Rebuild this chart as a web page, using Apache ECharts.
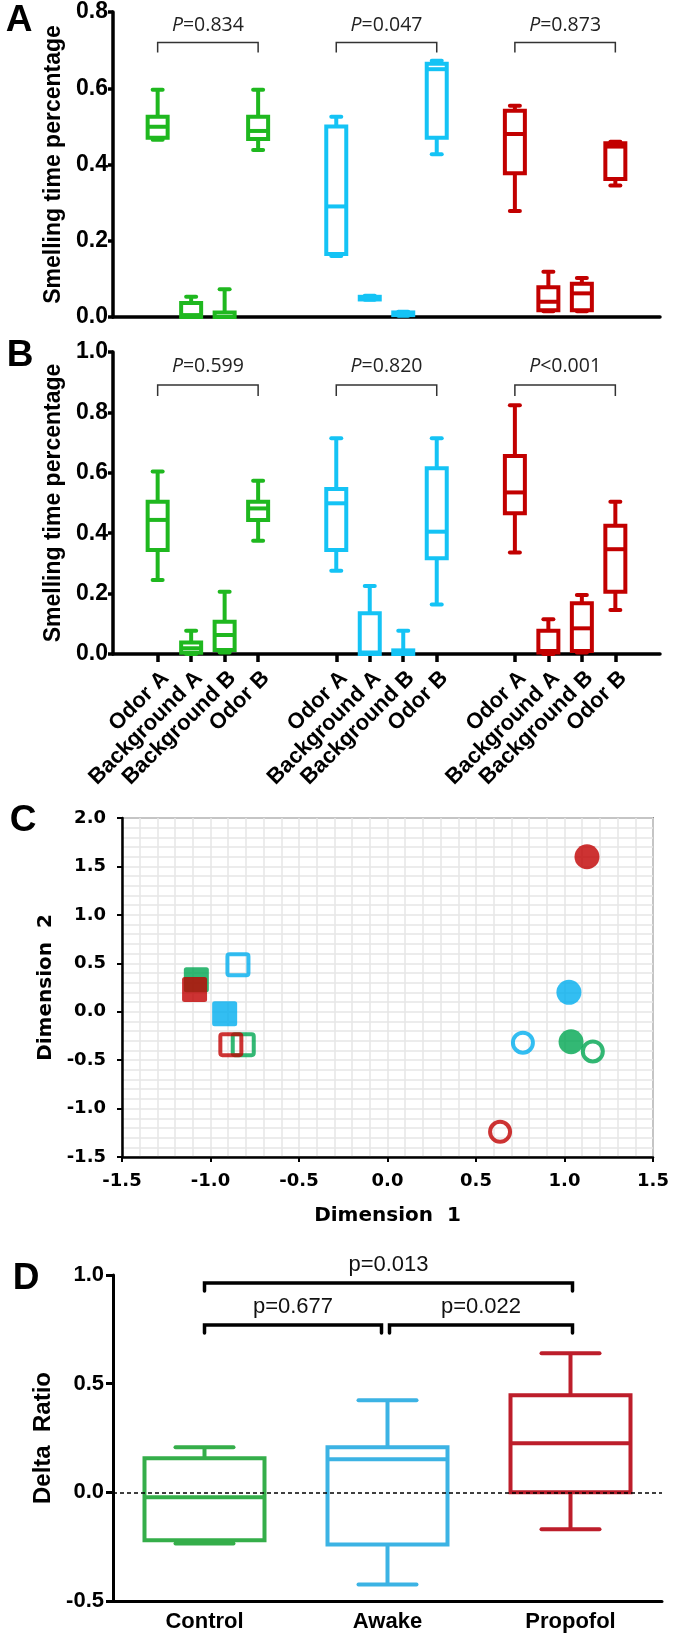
<!DOCTYPE html>
<html><head><meta charset="utf-8">
<script src="https://cdn.jsdelivr.net/npm/echarts@6/dist/echarts.min.js"></script>
<style>html,body{margin:0;padding:0;background:#fff}#c{width:675px;height:1636px}</style>
</head><body><div id="c"></div>
<script>
// ---------- DATA ----------
const categories = ['Odor A', 'Background A', 'Background B', 'Odor B'];
const groupNames = ['Control', 'Awake', 'Propofol'];
// Panel A boxes: [min, Q1, median, Q3, max] per category
const aControl  = [[0.465,0.470,0.499,0.525,0.596],[0,0,0.005,0.037,0.053],[0,0,0,0.012,0.073],[0.438,0.467,0.488,0.525,0.596]];
const aAwake    = [[0.160,0.165,0.290,0.500,0.525],[0.045,0.046,0.050,0.053,0.056],[0.003,0.005,0.008,0.012,0.014],[0.427,0.470,0.650,0.664,0.672]];
const aPropofol = [[0.278,0.377,0.480,0.541,0.554],[0.015,0.018,0.040,0.078,0.119],[0.015,0.018,0.062,0.087,0.102],[0.345,0.362,0.447,0.456,0.460]];
const aPLabels  = ['P=0.834', 'P=0.047', 'P=0.873'];
const aBracket  = [0.720, 0.694, 0.766];   // bracket level, leg end, label level
// Panel B boxes
const bControl  = [[0.245,0.344,0.444,0.504,0.604],[0,0.004,0.019,0.038,0.077],[0.005,0.013,0.063,0.107,0.206],[0.375,0.444,0.482,0.504,0.574]];
const bAwake    = [[0.276,0.344,0.499,0.546,0.714],[0,0,0.005,0.135,0.225],[0,0,0,0.012,0.077],[0.164,0.317,0.405,0.615,0.714]];
const bPropofol = [[0.336,0.466,0.535,0.656,0.824],[0,0.005,0.010,0.077,0.115],[0.005,0.010,0.085,0.168,0.195],[0.146,0.206,0.347,0.425,0.504]];
const bPLabels  = ['P=0.599', 'P=0.820', 'P<0.001'];
const bBracket  = [0.891, 0.854, 0.951];
// Panel C points [Dimension 1, Dimension 2], order Control, Awake, Propofol
const cFilledSquare = [[-1.08, 0.33], [-0.92, -0.02], [-1.09, 0.23]];
const cOpenSquare   = [[-0.815, -0.34], [-0.845, 0.485], [-0.885, -0.34]];
const cFilledCircle = [[1.037, -0.31], [1.025, 0.20], [1.127, 1.60]];
const cOpenCircle   = [[1.16, -0.41], [0.765, -0.32], [0.636, -1.24]];
// Panel D boxes
const dCategories = ['Control', 'Awake', 'Propofol'];
const dBoxes = [[-0.235,-0.221,-0.023,0.157,0.207],[-0.424,-0.240,0.152,0.207,0.424],[-0.170,0.000,0.226,0.447,0.640]];
const dPLabels = ['p=0.677', 'p=0.022', 'p=0.013'];
const dPFrom = [0, 1, 0];
const dPTo = [1, 2, 2];
const dPLevel = [0.77, 0.77, 0.963];

// ---------- STYLE / LAYOUT ----------
const FONT = '"Liberation Sans", Arial, sans-serif';
const colorsAB = ['#1fb81f', '#14c3f5', '#c20000'];
const colorsC  = ['#00a651', '#00aeef', '#c00000'];
const colorsD  = ['#35ae4a', '#3cb3e4', '#bd1e2b'];

const NSLOT = 50;
const slotOf = (g, i) => 4 + g * 16 + i * 3;
const slotName = {};
groupNames.forEach((_, g) => categories.forEach((c, i) => { slotName[slotOf(g, i)] = c; }));
const slots = Array.from({length: NSLOT}, (_, k) => String(k));
const isLabelSlot = k => slotName[k] !== undefined;

function boxRenderer(boxW, capW, lw) {
  return function (params, api) {
    const x = api.value(0);
    const ys = [1,2,3,4,5].map(k => api.coord([x, api.value(k)])[1]);
    const c = api.coord([x, api.value(1)])[0];
    const color = api.visual('color');
    const st = {stroke: color, lineWidth: lw, fill: 'none'};
    const ch = [];
    ch.push({type: 'line', shape: {x1: c, y1: ys[3], x2: c, y2: ys[4]}, style: st});
    ch.push({type: 'line', shape: {x1: c, y1: ys[1], x2: c, y2: ys[0]}, style: st});
    ch.push({type: 'line', shape: {x1: c - capW/2, y1: ys[4], x2: c + capW/2, y2: ys[4]}, style: Object.assign({lineCap: 'round'}, st)});
    ch.push({type: 'line', shape: {x1: c - capW/2, y1: ys[0], x2: c + capW/2, y2: ys[0]}, style: Object.assign({lineCap: 'round'}, st)});
    ch.push({type: 'rect', shape: {x: c - boxW/2, y: ys[3], width: boxW, height: ys[1] - ys[3]}, style: st});
    ch.push({type: 'line', shape: {x1: c - boxW/2, y1: ys[2], x2: c + boxW/2, y2: ys[2]}, style: st});
    return {type: 'group', children: ch};
  };
}
function boxSeries(ai, data, color, boxW, capW, lw) {
  return {type: 'custom', xAxisIndex: ai, yAxisIndex: ai, renderItem: boxRenderer(boxW, capW, lw),
    itemStyle: {color: color}, encode: {x: 0, y: [1,2,3,4,5]}, data: data, silent: true, z: 3, clip: false};
}
function abBracketSeries(ai, labels, lv) {
  const data = groupNames.map((_, g) => [slotOf(g, 0), slotOf(g, 3), lv[0], lv[1], lv[2]]);
  return {type: 'custom', xAxisIndex: ai, yAxisIndex: ai, silent: true, clip: false, data: data,
    encode: {x: [0,1], y: [2]},
    renderItem: function (params, api) {
      const p1 = api.coord([api.value(0), api.value(2)]);
      const p2 = api.coord([api.value(1), api.value(2)]);
      const yl = api.coord([api.value(0), api.value(3)])[1];
      const yt = api.coord([api.value(0), api.value(4)])[1];
      const lab = labels[params.dataIndex];
      return {type: 'group', children: [
        {type: 'polyline', shape: {points: [[p1[0], yl], [p1[0], p1[1]], [p2[0], p2[1]], [p2[0], yl]]},
          style: {stroke: '#333', lineWidth: 1.5, fill: 'none'}},
        {type: 'text', x: (p1[0] + p2[0]) / 2, y: yt, style: {
          text: '{i|' + lab[0] + '}{n|' + lab.slice(1) + '}', align: 'center', verticalAlign: 'middle',
          rich: {i: {fontStyle: 'italic', fontSize: 19.5, fontFamily: '"Open Sans"', fill: '#222'},
                 n: {fontSize: 19.5, fontFamily: '"Open Sans"', fill: '#222'}}}}
      ]};
    }};
}
const dOff = [[0, -6], [2, 2], [0, 2]];
function dBracketSeries() {
  const data = dPLabels.map((_, k) => [dPFrom[k], dPTo[k], dPLevel[k]]);
  return {type: 'custom', xAxisIndex: 3, yAxisIndex: 3, silent: true, clip: false, data: data,
    encode: {x: [0,1], y: [2]},
    renderItem: function (params, api) {
      const k = params.dataIndex;
      const p1 = api.coord([api.value(0), api.value(2)]);
      const p2 = api.coord([api.value(1), api.value(2)]);
      const x1 = p1[0] + dOff[k][0], x2 = p2[0] + dOff[k][1], y = p1[1];
      return {type: 'group', children: [
        {type: 'polyline', shape: {points: [[x1, y + 8], [x1, y], [x2, y], [x2, y + 8]]},
          style: {stroke: '#000', lineWidth: 3.5, fill: 'none', lineCap: 'round'}},
        {type: 'text', x: (x1 + x2) / 2, y: y - 18, style: {text: dPLabels[k], align: 'center', verticalAlign: 'middle',
          fontSize: 22, fontFamily: FONT, fill: '#111'}}
      ]};
    }};
}

const yLabel = (size) => ({fontSize: size, fontWeight: 'bold', color: '#000', fontFamily: FONT, formatter: v => v.toFixed(1)});
function abY(ai, max, gap) {
  return {type: 'value', gridIndex: ai, min: 0, max: max, interval: 0.2,
    axisLine: {show: true, lineStyle: {color: '#000', width: 3.5}},
    axisTick: {show: true, length: 5, lineStyle: {color: '#000', width: 3.5}},
    axisLabel: Object.assign(yLabel(23), {margin: 5}),
    splitLine: {show: false},
    name: 'Smelling time percentage', nameLocation: 'middle', nameGap: gap,
    nameTextStyle: {fontSize: 23, fontWeight: 'bold', color: '#000', fontFamily: FONT}};
}
function abX(ai, showLabels) {
  return {type: 'category', gridIndex: ai, data: slots, boundaryGap: false,
    axisLine: {onZero: false, lineStyle: {color: '#000', width: 3.5}},
    axisTick: {show: showLabels, interval: (idx) => isLabelSlot(idx), length: 8, lineStyle: {color: '#000', width: 3.5}},
    axisLabel: {show: showLabels, interval: (idx) => isLabelSlot(idx), rotate: 45, margin: 13,
      align: 'right', verticalAlign: 'top',
      formatter: v => slotName[+v] || '', fontSize: 22, fontWeight: 'bold', color: '#000', fontFamily: FONT},
    splitLine: {show: false}};
}
const gridLine = {color: '#e6e6e6', width: 1.5};
const cFont = {fontSize: 18, fontWeight: 'bold', color: '#000', fontFamily: '"DejaVu Sans"'};

const option = {
  animation: false,
  backgroundColor: '#fff',
  grid: [
    {left: 113, top: 12, width: 547, height: 305},
    {left: 113, top: 352, width: 547, height: 302},
    {left: 122, top: 818, width: 531, height: 339, show: true, borderColor: '#333', borderWidth: 1.5, backgroundColor: '#fff'},
    {left: 113, top: 1275, width: 549, height: 326}
  ],
  xAxis: [
    abX(0, false),
    abX(1, true),
    {type: 'value', gridIndex: 2, min: -1.5, max: 1.5, interval: 0.5,
      axisLine: {onZero: false, lineStyle: {color: '#000', width: 2.5}},
      axisTick: {show: true, length: 5, lineStyle: {color: '#000', width: 2}},
      axisLabel: Object.assign({margin: 15, formatter: v => v.toFixed(1)}, cFont),
      splitLine: {show: true, lineStyle: gridLine},
      minorTick: {show: false, splitNumber: 5},
      minorSplitLine: {show: true, lineStyle: gridLine},
      name: 'Dimension  1', nameLocation: 'middle', nameGap: 49,
      nameTextStyle: {fontSize: 20, fontWeight: 'bold', color: '#000', fontFamily: '"DejaVu Sans"'}},
    {type: 'category', gridIndex: 3, data: dCategories, boundaryGap: true,
      axisLine: {onZero: false, lineStyle: {color: '#000', width: 3}},
      axisTick: {alignWithLabel: true, length: 7, lineStyle: {color: '#000', width: 3}},
      axisLabel: {fontSize: 22, fontWeight: 'bold', color: '#000', fontFamily: FONT, margin: 10},
      splitLine: {show: false}}
  ],
  yAxis: [
    abY(0, 0.8, 44),
    abY(1, 1.0, 44),
    {type: 'value', gridIndex: 2, min: -1.5, max: 2.0, interval: 0.5,
      axisLine: {onZero: false, lineStyle: {color: '#000', width: 2.5}},
      axisTick: {show: true, length: 5, lineStyle: {color: '#000', width: 2}},
      axisLabel: Object.assign({margin: 16, formatter: v => v.toFixed(1)}, cFont),
      splitLine: {show: true, lineStyle: gridLine},
      minorTick: {show: false, splitNumber: 5},
      minorSplitLine: {show: true, lineStyle: gridLine},
      name: 'Dimension  2', nameLocation: 'middle', nameGap: 62,
      nameTextStyle: {fontSize: 20, fontWeight: 'bold', color: '#000', fontFamily: '"DejaVu Sans"'}},
    {type: 'value', gridIndex: 3, min: -0.5, max: 1.0, interval: 0.5,
      axisLine: {show: true, onZero: false, lineStyle: {color: '#000', width: 3}},
      axisTick: {show: true, length: 7, lineStyle: {color: '#000', width: 3}},
      axisLabel: Object.assign(yLabel(22), {margin: 9}),
      splitLine: {show: false},
      name: 'Delta  Ratio', nameLocation: 'middle', nameGap: 51,
      nameTextStyle: {fontSize: 24, fontWeight: 'bold', color: '#000', fontFamily: FONT}}
  ],
  graphic: [
    {type: 'text', x: 19, y: 21, style: {text: 'A', align: 'center', verticalAlign: 'middle', font: 'bold 37px ' + FONT, fill: '#000'}},
    {type: 'text', x: 20, y: 356, style: {text: 'B', align: 'center', verticalAlign: 'middle', font: 'bold 37px ' + FONT, fill: '#000'}},
    {type: 'text', x: 23, y: 821, style: {text: 'C', align: 'center', verticalAlign: 'middle', font: 'bold 37px ' + FONT, fill: '#000'}},
    {type: 'text', x: 26, y: 1279, style: {text: 'D', align: 'center', verticalAlign: 'middle', font: 'bold 37px ' + FONT, fill: '#000'}}
  ],
  series: []
};

[aControl, aAwake, aPropofol].forEach((grp, g) => {
  option.series.push(boxSeries(0, grp.map((q, i) => [slotOf(g, i)].concat(q)), colorsAB[g], 20, 10, 4));
});
[bControl, bAwake, bPropofol].forEach((grp, g) => {
  option.series.push(boxSeries(1, grp.map((q, i) => [slotOf(g, i)].concat(q)), colorsAB[g], 20, 10, 4));
});
option.series.push(abBracketSeries(0, aPLabels, aBracket));
option.series.push(abBracketSeries(1, bPLabels, bBracket));

const sqPath = 'path://M2,0H18A2,2 0 0 1 20,2V18A2,2 0 0 1 18,20H2A2,2 0 0 1 0,18V2A2,2 0 0 1 2,0Z';
function scatterSeries(pts, symbol, size, filled) {
  return {type: 'scatter', xAxisIndex: 2, yAxisIndex: 2, symbol: symbol, symbolSize: size, silent: true, z: 4,
    data: pts.map((p, g) => ({value: p, itemStyle: filled ? {color: colorsC[g]} :
      {color: 'rgba(0,0,0,0)', borderColor: colorsC[g], borderWidth: 4}}))};
}
option.series.push(scatterSeries(cFilledSquare, sqPath, 25, true));
option.series.push(scatterSeries(cOpenSquare, sqPath, 21, false));
option.series.push(scatterSeries(cFilledCircle, 'circle', 25, true));
option.series.push(scatterSeries(cOpenCircle, 'circle', 20, false));

dBoxes.forEach((q, g) => {
  const s = boxSeries(3, [[g].concat(q)], colorsD[g], 120, 58, 4);
  if (g === 0) {
    s.markLine = {silent: true, symbol: 'none', label: {show: false},
      lineStyle: {type: [4, 3], color: '#000', width: 1.5}, data: [{yAxis: 0}]};
  }
  option.series.push(s);
});
option.series.push(dBracketSeries());

const chart = echarts.init(document.getElementById('c'), null, {renderer: 'canvas', width: 675, height: 1636});
chart.setOption(option);
</script></body></html>
